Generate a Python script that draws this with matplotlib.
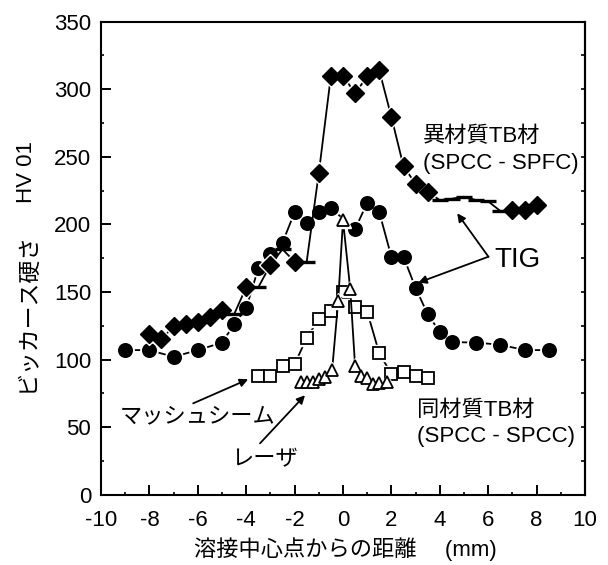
import matplotlib
matplotlib.use('Agg')
import matplotlib.pyplot as plt
from matplotlib.ticker import MultipleLocator

plt.rcParams['font.family'] = ['Liberation Sans', 'Noto Sans CJK JP']
plt.rcParams['axes.unicode_minus'] = False

# ---------------- data ----------------
# TIG, same material (SPCC - SPCC): filled circles
circ_x = [-9, -8, -7, -6, -5, -4.5, -4, -3.5, -3, -2.5, -2, -1.5, -1, -0.5,
          0.5, 1, 1.5, 2, 2.5, 3, 3.5, 4, 4.5, 5.5, 6.5, 7.5, 8.5]
circ_y = [107, 107, 102, 107, 112.5, 126, 138, 167.5, 178, 186.5, 209, 201, 209, 212,
          196.5, 216, 209, 176, 176, 153, 133.5, 120.5, 113, 112.5, 111, 107, 107]

# TIG, dissimilar material (SPCC - SPFC): diamonds + points drawn as short dashes
dia_x = [-8, -7.5, -7, -6.5, -6, -5.5, -5, -4, -3, -2, -1, -0.5, 0, 0.5, 1, 1.5,
         2, 2.5, 3, 3.5, 7, 7.5, 8]
dia_y = [118.7, 115, 124.8, 126.3, 128, 131.7, 136.7, 153.5, 170, 172.4, 238, 310, 310,
         297, 309.5, 314, 279.5, 243, 230, 224, 211, 211, 214]
dash_x = [-4.5, -3.5, -2.5, -1.5, 4, 4.5, 5, 5.5, 6, 6.5]
dash_y = [133.5, 153.5, 181.6, 172.4, 218, 219, 220.5, 218, 217, 210]

# Mash seam: open squares
sq_x = [-3.5, -3, -2.5, -2, -1.5, -1, -0.5, 0, 0.5, 1, 1.5, 2, 2.5, 3, 3.5]
sq_y = [87.5, 88, 95, 96.5, 116, 130, 136, 150, 139, 135.5, 104.5, 89.5, 91, 88, 86]

# Laser: open triangles
tri_x = [-1.75, -1.5, -1.25, -1.0, -0.75, -0.45, -0.2, 0, 0.3, 0.5, 0.75, 1.0, 1.25, 1.5, 1.8]
tri_y = [83.5, 83.5, 83.5, 85.5, 87, 92, 143, 203, 152, 95, 88, 86.5, 82, 82.5, 83.5]

x_ticks = [-10, -8, -6, -4, -2, 0, 2, 4, 6, 8, 10]
x_ticklabels = ['-10', '-8', '-6', '-4', '-2', '0', '2', '4', '6', '8', '10']
y_ticks = [0, 50, 100, 150, 200, 250, 300, 350]

# ---------------- figure ----------------
fig = plt.figure(figsize=(6.08, 5.65), dpi=100)
W, H = 608, 565
ax = fig.add_axes([101 / W, 1 - 494.7 / H, (585 - 101) / W, (494.7 - 21.7) / H])
ax.set_xlim(-10, 10)
ax.set_ylim(0, 350)

LW = 1.3


def series(x, y, marker, ms, fc, z, halo=3.0):
    ax.plot(x, y, color='black', lw=LW, zorder=z)
    ax.plot(x, y, ls='none', marker=marker, ms=ms + halo, mfc='white', mec='white',
            zorder=z + 0.1)
    ax.plot(x, y, ls='none', marker=marker, ms=ms, mfc=fc, mec='black', mew=1.3,
            zorder=z + 0.2)


series(circ_x, circ_y, 'o', 9.5, 'black', 2)

pts = sorted(zip(dia_x + dash_x, dia_y + dash_y))
ax.plot([p[0] for p in pts], [p[1] for p in pts], color='black', lw=LW, zorder=3)
ax.plot(dia_x, dia_y, ls='none', marker='D', ms=11.5, mfc='white', mec='white', zorder=3.1)
ax.plot(dia_x, dia_y, ls='none', marker='D', ms=9, mfc='black', mec='black', zorder=3.2)
ax.plot(dash_x, dash_y, ls='none', marker='_', ms=11, mew=2.4, color='black', zorder=3.2)

series(sq_x, sq_y, 's', 8, 'white', 4)
series(tri_x, tri_y, '^', 8.5, 'white', 5)

# ---------------- axes styling ----------------
ax.set_xticks(x_ticks)
ax.set_xticklabels(x_ticklabels)
ax.set_yticks(y_ticks)
ax.xaxis.set_minor_locator(MultipleLocator(1))
ax.yaxis.set_minor_locator(MultipleLocator(25))
ax.tick_params(which='major', direction='in', length=7, width=1.4, labelsize=16)
ax.tick_params(axis='x', which='major', pad=11)
ax.tick_params(axis='y', which='major', pad=7)
ax.tick_params(which='minor', direction='in', length=2.5, width=1.2)
for s in ax.spines.values():
    s.set_linewidth(1.5)

sec = ax.secondary_yaxis('right')
sec.yaxis.set_major_locator(MultipleLocator(25))
sec.tick_params(direction='in', length=3, width=1.2, labelright=False)
sec.spines['right'].set_linewidth(1.5)

# ---------------- labels & annotations ----------------
fig.text(345 / W, 1 - 549 / H, '溶接中心点からの距離　 (mm)', ha='center', va='center',
         fontsize=16)
fig.text(27 / W, 1 - 172 / H, 'HV 01', rotation=90, ha='center', va='center', fontsize=16)
fig.text(27 / W, 1 - 312 / H, 'ビッカース硬さ', rotation=90, ha='center', va='center',
         fontsize=16.5)

ax.text(3.3, 265.3, '異材質TB材', ha='left', va='center', fontsize=16)
ax.text(3.3, 245.4, '(SPCC - SPFC)', ha='left', va='center', fontsize=16)
ax.text(7.23, 173.6, 'TIG', ha='center', va='center', fontsize=20)
ax.text(-9.21, 57.5, 'マッシュシーム', ha='left', va='center', fontsize=16)
ax.text(-3.26, 25.7, 'レーザ', ha='center', va='center', fontsize=16)
ax.text(3.05, 62, '同材質TB材', ha='left', va='center', fontsize=16)
ax.text(3.05, 42.7, '(SPCC - SPCC)', ha='left', va='center', fontsize=16)

arrow = dict(arrowstyle='-|>', color='black', lw=1.3, mutation_scale=12,
             shrinkA=0, shrinkB=0)
ax.annotate('', xy=(4.72, 208.2), xytext=(6.01, 176.1), arrowprops=arrow)
ax.annotate('', xy=(3.11, 156.9), xytext=(6.01, 176.1), arrowprops=arrow)
ax.annotate('', xy=(-3.92, 85.4), xytext=(-6.19, 67.6), arrowprops=arrow)
ax.annotate('', xy=(-1.57, 73.6), xytext=(-3.43, 38), arrowprops=arrow)

fig.savefig('out.png', dpi=100)
